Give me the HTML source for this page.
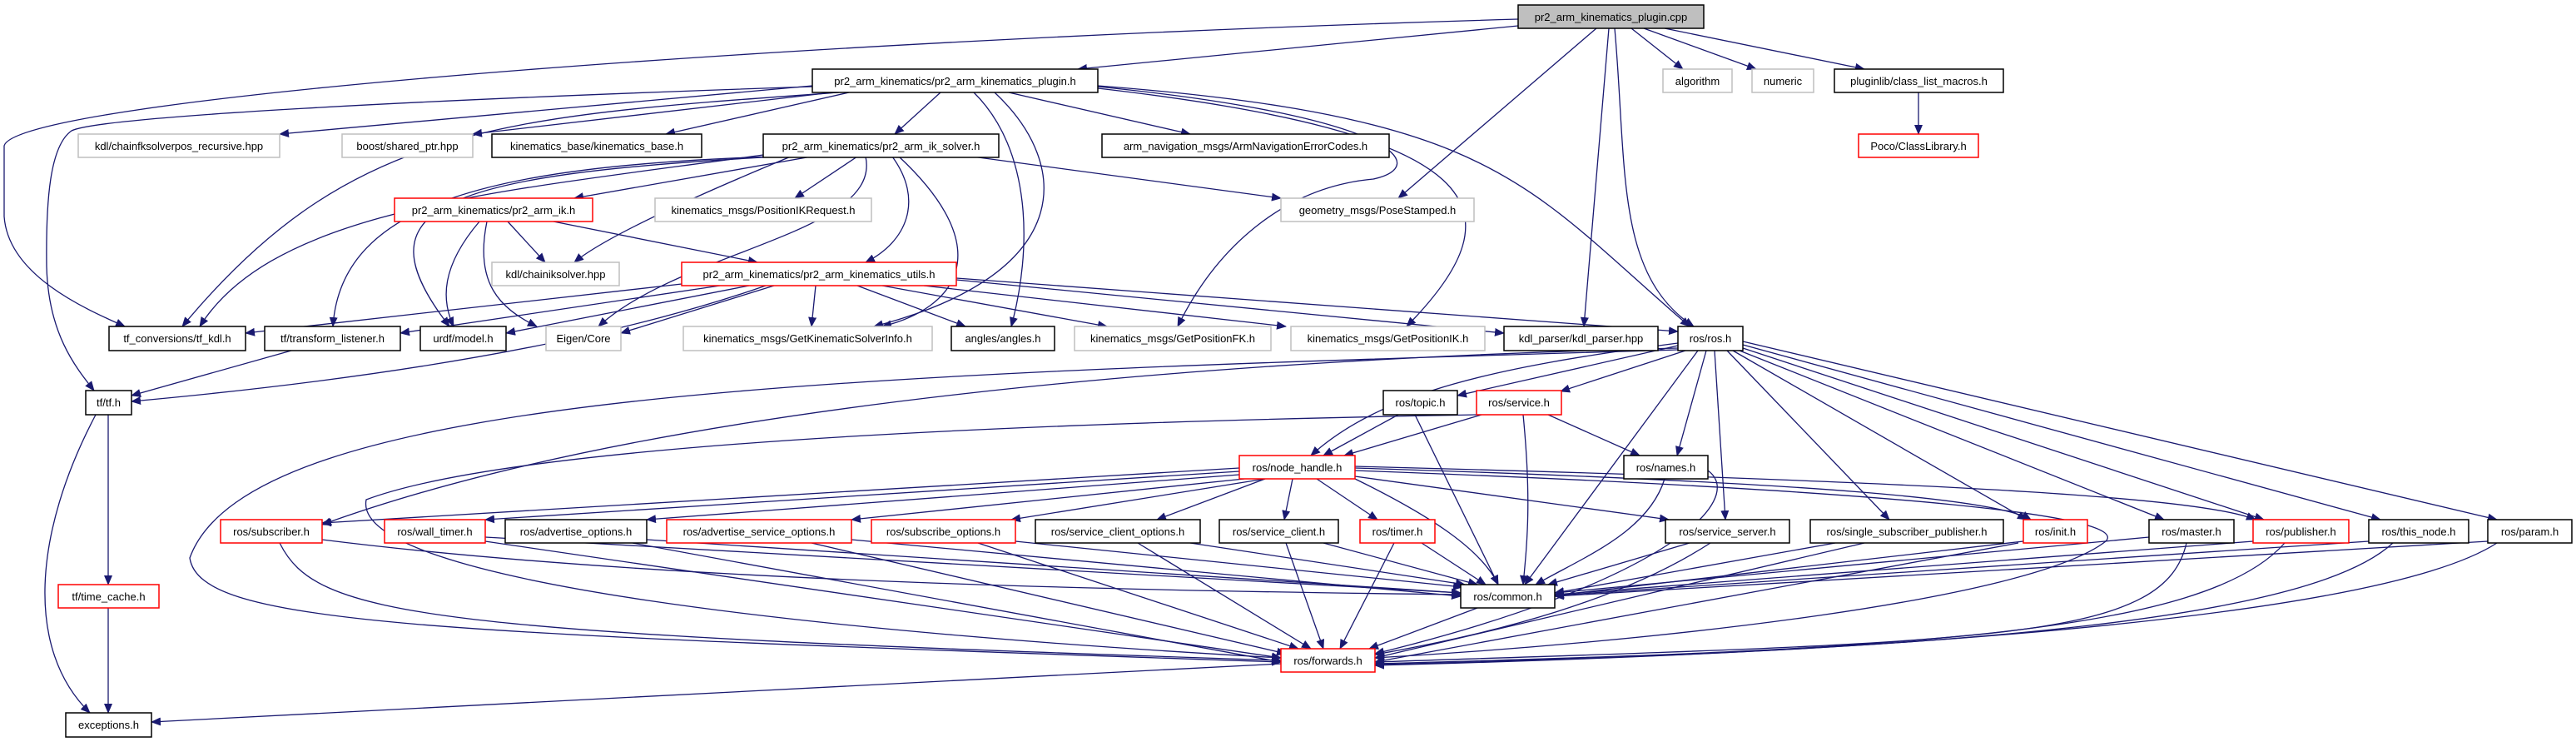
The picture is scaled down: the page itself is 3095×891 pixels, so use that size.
<!DOCTYPE html>
<html><head><meta charset="utf-8"><style>
html,body{margin:0;padding:0;background:#fff}
svg{display:block}
text{font-family:"Liberation Sans",sans-serif;font-size:13px;fill:#000}
.e{fill:none;stroke:#191970;stroke-width:1.3}
</style></head><body>
<svg width="3095" height="891" viewBox="0 0 3095 891" xmlns="http://www.w3.org/2000/svg">
<defs><marker id="a" markerWidth="12" markerHeight="10" refX="11" refY="5" orient="auto" markerUnits="userSpaceOnUse"><path d="M0,0 L12,5 L0,10 z" fill="#191970"/></marker></defs>
<g class="e" marker-end="url(#a)">
<path d="M1824,31 L1295,83"/>
<path d="M1960,34 L2022,83"/>
<path d="M1975,34 L2110,83"/>
<path d="M2000,34 L2240,83"/>
<path d="M1918,34 L1680,238"/>
<path d="M1933,34 L1903,392"/>
<path d="M1940,34 C1955,200 1940,330 2035,392"/>
<path d="M1824,23 C900,50 20,120 5,175 L5,260 C10,330 100,370 150,392"/>
<path d="M2305,111 L2305,161"/>
<path d="M976,103 L336,161"/>
<path d="M1000,111 L568,161"/>
<path d="M1020,111 L800,161"/>
<path d="M1130,111 L1075,161"/>
<path d="M1212,111 L1430,161"/>
<path d="M1008,111 C600,140 420,150 219,392"/>
<path d="M976,104 C500,120 120,140 86,157 C60,175 55,240 56,320 C58,400 90,440 113,469"/>
<path d="M1170,111 C1240,180 1240,300 1215,392"/>
<path d="M1195,111 C1290,200 1290,330 1050,392"/>
<path d="M1319,104 C1680,140 1720,200 1650,215 C1540,225 1460,300 1415,392"/>
<path d="M1319,106 C1790,160 1830,250 1690,392"/>
<path d="M1319,103 C1800,140 1830,220 2030,392"/>
<path d="M917,186 C600,230 330,250 240,392"/>
<path d="M975,188 L690,238"/>
<path d="M1030,188 L955,238"/>
<path d="M1168,188 L1539,238"/>
<path d="M950,188 C800,250 720,290 690,315"/>
<path d="M1072,188 C1110,240 1090,290 1040,315"/>
<path d="M1080,188 C1200,300 1150,370 1060,392"/>
<path d="M935,188 C520,210 430,250 540,392"/>
<path d="M925,188 C600,200 410,240 400,392"/>
<path d="M1040,188 C1060,280 820,300 719,392"/>
<path d="M610,266 L655,315"/>
<path d="M576,266 C530,320 530,360 545,392"/>
<path d="M585,266 C570,340 600,370 645,392"/>
<path d="M665,266 L910,315"/>
<path d="M819,341 L295,400"/>
<path d="M865,343 L481,400"/>
<path d="M900,343 L608,400"/>
<path d="M930,343 L746,400"/>
<path d="M980,343 L975,392"/>
<path d="M1030,343 L1160,392"/>
<path d="M1060,343 L1330,392"/>
<path d="M1110,343 L1545,392"/>
<path d="M1149,336 L1807,400"/>
<path d="M1149,334 L2016,398"/>
<path d="M920,343 C700,420 400,460 158,482"/>
<path d="M350,421 L158,475"/>
<path d="M130,498 L130,702"/>
<path d="M115,498 C40,640 30,780 108,856"/>
<path d="M130,730 L130,856"/>
<path d="M2016,415 L1751,475"/>
<path d="M2025,421 L1875,470"/>
<path d="M2016,412 C1800,440 1660,470 1575,547"/>
<path d="M2050,421 L2015,547"/>
<path d="M2040,421 L1832,702"/>
<path d="M2060,421 L2073,624"/>
<path d="M2075,421 L2270,624"/>
<path d="M2082,421 L2435,624"/>
<path d="M2090,421 L2600,624"/>
<path d="M2094,418 L2720,624"/>
<path d="M2094,414 L2860,624"/>
<path d="M2094,410 L3000,624"/>
<path d="M2016,418 C1500,430 800,480 387,630"/>
<path d="M2016,420 C1000,450 300,470 228,670 C240,750 500,760 1539,795"/>
<path d="M1680,498 L1590,547"/>
<path d="M1700,498 L1800,702"/>
<path d="M1780,498 L1615,547"/>
<path d="M1860,498 L1970,547"/>
<path d="M1830,498 C1840,600 1835,650 1830,702"/>
<path d="M1774,498 C1100,510 600,540 440,600 C420,700 1000,760 1539,790"/>
<path d="M1489,562 L387,628"/>
<path d="M1489,566 L583,624"/>
<path d="M1489,570 L777,624"/>
<path d="M1495,575 L1023,624"/>
<path d="M1520,575 L1215,624"/>
<path d="M1520,575 L1390,624"/>
<path d="M1553,575 L1543,624"/>
<path d="M1582,575 L1655,624"/>
<path d="M1628,572 L2005,624"/>
<path d="M1628,575 C1720,620 1780,660 1800,702"/>
<path d="M1628,562 C2200,580 2400,600 2440,624"/>
<path d="M1628,560 C2400,580 2650,600 2710,624"/>
<path d="M1628,565 C2300,590 2560,620 2530,650 C2440,720 2000,770 1652,790"/>
<path d="M2000,575 C1980,640 1900,670 1845,702"/>
<path d="M2052,565 C2100,600 2000,700 1652,785"/>
<path d="M387,648 C800,700 1400,710 1755,714"/>
<path d="M336,652 C380,740 500,760 1539,793"/>
<path d="M583,645 L1755,712"/>
<path d="M583,650 L1539,790"/>
<path d="M777,648 L1755,712"/>
<path d="M760,652 L1539,795"/>
<path d="M1023,648 L1755,716"/>
<path d="M975,652 L1545,785"/>
<path d="M1220,650 L1757,705"/>
<path d="M1175,652 L1560,779"/>
<path d="M1430,652 L1760,702"/>
<path d="M1367,652 L1575,779"/>
<path d="M1590,652 L1775,702"/>
<path d="M1545,652 L1590,779"/>
<path d="M1708,652 L1785,702"/>
<path d="M1675,652 L1610,779"/>
<path d="M2030,652 L1860,702"/>
<path d="M2055,652 C1950,720 1800,760 1652,786"/>
<path d="M2205,652 L1868,712"/>
<path d="M2240,652 L1652,790"/>
<path d="M2431,650 L1868,715"/>
<path d="M2425,652 L1652,795"/>
<path d="M2582,645 L1868,712"/>
<path d="M2627,652 C2600,770 2400,770 1652,795"/>
<path d="M2707,650 L1868,714"/>
<path d="M2745,652 C2650,760 2300,780 1652,797"/>
<path d="M2846,650 L1868,715"/>
<path d="M2875,652 C2780,740 2400,780 1652,798"/>
<path d="M2989,650 L1868,716"/>
<path d="M3000,652 C2880,730 2400,780 1652,799"/>
<path d="M1775,730 L1645,779"/>
<path d="M1539,797 L182,867"/>
</g>
<g stroke-width="1.5">
<!-- nodes: x,w,y,h -->
<rect x="1824" y="6" width="223" height="28" fill="#bfbfbf" stroke="#000"/><text x="1935.5" y="25" text-anchor="middle">pr2_arm_kinematics_plugin.cpp</text>
<rect x="976" y="83" width="343" height="28" fill="#fff" stroke="#000"/><text x="1147.5" y="102" text-anchor="middle">pr2_arm_kinematics/pr2_arm_kinematics_plugin.h</text>
<rect x="1998" y="83" width="83" height="28" fill="#fff" stroke="#bfbfbf"/><text x="2039.5" y="102" text-anchor="middle">algorithm</text>
<rect x="2105" y="83" width="74" height="28" fill="#fff" stroke="#bfbfbf"/><text x="2142" y="102" text-anchor="middle">numeric</text>
<rect x="2204" y="83" width="203" height="28" fill="#fff" stroke="#000"/><text x="2305.5" y="102" text-anchor="middle">pluginlib/class_list_macros.h</text>
<rect x="94" y="161" width="242" height="28" fill="#fff" stroke="#bfbfbf"/><text x="215" y="180" text-anchor="middle">kdl/chainfksolverpos_recursive.hpp</text>
<rect x="411" y="161" width="157" height="28" fill="#fff" stroke="#bfbfbf"/><text x="489.5" y="180" text-anchor="middle">boost/shared_ptr.hpp</text>
<rect x="591" y="161" width="252" height="28" fill="#fff" stroke="#000"/><text x="717" y="180" text-anchor="middle">kinematics_base/kinematics_base.h</text>
<rect x="917" y="161" width="283" height="28" fill="#fff" stroke="#000"/><text x="1058.5" y="180" text-anchor="middle">pr2_arm_kinematics/pr2_arm_ik_solver.h</text>
<rect x="1324" y="161" width="345" height="28" fill="#fff" stroke="#000"/><text x="1496.5" y="180" text-anchor="middle">arm_navigation_msgs/ArmNavigationErrorCodes.h</text>
<rect x="2233" y="161" width="144" height="28" fill="#fff" stroke="#f00"/><text x="2305" y="180" text-anchor="middle">Poco/ClassLibrary.h</text>
<rect x="474" y="238" width="238" height="28" fill="#fff" stroke="#f00"/><text x="593" y="257" text-anchor="middle">pr2_arm_kinematics/pr2_arm_ik.h</text>
<rect x="787" y="238" width="260" height="28" fill="#fff" stroke="#bfbfbf"/><text x="917" y="257" text-anchor="middle">kinematics_msgs/PositionIKRequest.h</text>
<rect x="1539" y="238" width="232" height="28" fill="#fff" stroke="#bfbfbf"/><text x="1655" y="257" text-anchor="middle">geometry_msgs/PoseStamped.h</text>
<rect x="591" y="315" width="153" height="28" fill="#fff" stroke="#bfbfbf"/><text x="667.5" y="334" text-anchor="middle">kdl/chainiksolver.hpp</text>
<rect x="819" y="315" width="330" height="28" fill="#fff" stroke="#f00"/><text x="984" y="334" text-anchor="middle">pr2_arm_kinematics/pr2_arm_kinematics_utils.h</text>
<rect x="131" y="392" width="164" height="29" fill="#fff" stroke="#000"/><text x="213" y="411" text-anchor="middle">tf_conversions/tf_kdl.h</text>
<rect x="318" y="392" width="163" height="29" fill="#fff" stroke="#000"/><text x="399.5" y="411" text-anchor="middle">tf/transform_listener.h</text>
<rect x="505" y="392" width="103" height="29" fill="#fff" stroke="#000"/><text x="556.5" y="411" text-anchor="middle">urdf/model.h</text>
<rect x="656" y="392" width="90" height="29" fill="#fff" stroke="#bfbfbf"/><text x="701" y="411" text-anchor="middle">Eigen/Core</text>
<rect x="821" y="392" width="299" height="29" fill="#fff" stroke="#bfbfbf"/><text x="970.5" y="411" text-anchor="middle">kinematics_msgs/GetKinematicSolverInfo.h</text>
<rect x="1143" y="392" width="124" height="29" fill="#fff" stroke="#000"/><text x="1205" y="411" text-anchor="middle">angles/angles.h</text>
<rect x="1291" y="392" width="236" height="29" fill="#fff" stroke="#bfbfbf"/><text x="1409" y="411" text-anchor="middle">kinematics_msgs/GetPositionFK.h</text>
<rect x="1551" y="392" width="233" height="29" fill="#fff" stroke="#bfbfbf"/><text x="1667.5" y="411" text-anchor="middle">kinematics_msgs/GetPositionIK.h</text>
<rect x="1807" y="392" width="185" height="29" fill="#fff" stroke="#000"/><text x="1899.5" y="411" text-anchor="middle">kdl_parser/kdl_parser.hpp</text>
<rect x="2016" y="392" width="78" height="29" fill="#fff" stroke="#000"/><text x="2055" y="411" text-anchor="middle">ros/ros.h</text>
<rect x="103" y="469" width="55" height="29" fill="#fff" stroke="#000"/><text x="130.5" y="488" text-anchor="middle">tf/tf.h</text>
<rect x="1662" y="469" width="89" height="29" fill="#fff" stroke="#000"/><text x="1706.5" y="488" text-anchor="middle">ros/topic.h</text>
<rect x="1774" y="469" width="102" height="29" fill="#fff" stroke="#f00"/><text x="1825" y="488" text-anchor="middle">ros/service.h</text>
<rect x="1489" y="547" width="139" height="28" fill="#fff" stroke="#f00"/><text x="1558.5" y="566" text-anchor="middle">ros/node_handle.h</text>
<rect x="1951" y="547" width="101" height="28" fill="#fff" stroke="#000"/><text x="2001.5" y="566" text-anchor="middle">ros/names.h</text>
<rect x="265" y="624" width="122" height="28" fill="#fff" stroke="#f00"/><text x="326" y="643" text-anchor="middle">ros/subscriber.h</text>
<rect x="462" y="624" width="121" height="28" fill="#fff" stroke="#f00"/><text x="522.5" y="643" text-anchor="middle">ros/wall_timer.h</text>
<rect x="607" y="624" width="170" height="28" fill="#fff" stroke="#000"/><text x="692" y="643" text-anchor="middle">ros/advertise_options.h</text>
<rect x="801" y="624" width="222" height="28" fill="#fff" stroke="#f00"/><text x="912" y="643" text-anchor="middle">ros/advertise_service_options.h</text>
<rect x="1047" y="624" width="173" height="28" fill="#fff" stroke="#f00"/><text x="1133.5" y="643" text-anchor="middle">ros/subscribe_options.h</text>
<rect x="1244" y="624" width="198" height="28" fill="#fff" stroke="#000"/><text x="1343" y="643" text-anchor="middle">ros/service_client_options.h</text>
<rect x="1465" y="624" width="143" height="28" fill="#fff" stroke="#000"/><text x="1536.5" y="643" text-anchor="middle">ros/service_client.h</text>
<rect x="1634" y="624" width="90" height="28" fill="#fff" stroke="#f00"/><text x="1679" y="643" text-anchor="middle">ros/timer.h</text>
<rect x="2001" y="624" width="149" height="28" fill="#fff" stroke="#000"/><text x="2075.5" y="643" text-anchor="middle">ros/service_server.h</text>
<rect x="2175" y="624" width="232" height="28" fill="#fff" stroke="#000"/><text x="2291" y="643" text-anchor="middle">ros/single_subscriber_publisher.h</text>
<rect x="2431" y="624" width="77" height="28" fill="#fff" stroke="#f00"/><text x="2469.5" y="643" text-anchor="middle">ros/init.h</text>
<rect x="2582" y="624" width="102" height="28" fill="#fff" stroke="#000"/><text x="2633" y="643" text-anchor="middle">ros/master.h</text>
<rect x="2707" y="624" width="115" height="28" fill="#fff" stroke="#f00"/><text x="2764.5" y="643" text-anchor="middle">ros/publisher.h</text>
<rect x="2846" y="624" width="120" height="28" fill="#fff" stroke="#000"/><text x="2906" y="643" text-anchor="middle">ros/this_node.h</text>
<rect x="2989" y="624" width="101" height="28" fill="#fff" stroke="#000"/><text x="3039.5" y="643" text-anchor="middle">ros/param.h</text>
<rect x="70" y="702" width="121" height="28" fill="#fff" stroke="#f00"/><text x="130.5" y="721" text-anchor="middle">tf/time_cache.h</text>
<rect x="1755" y="702" width="113" height="28" fill="#fff" stroke="#000"/><text x="1811.5" y="721" text-anchor="middle">ros/common.h</text>
<rect x="1539" y="779" width="113" height="28" fill="#fff" stroke="#f00"/><text x="1595.5" y="798" text-anchor="middle">ros/forwards.h</text>
<rect x="79" y="856" width="103" height="29" fill="#fff" stroke="#000"/><text x="130.5" y="875" text-anchor="middle">exceptions.h</text>
</g>
</svg>
</body></html>
